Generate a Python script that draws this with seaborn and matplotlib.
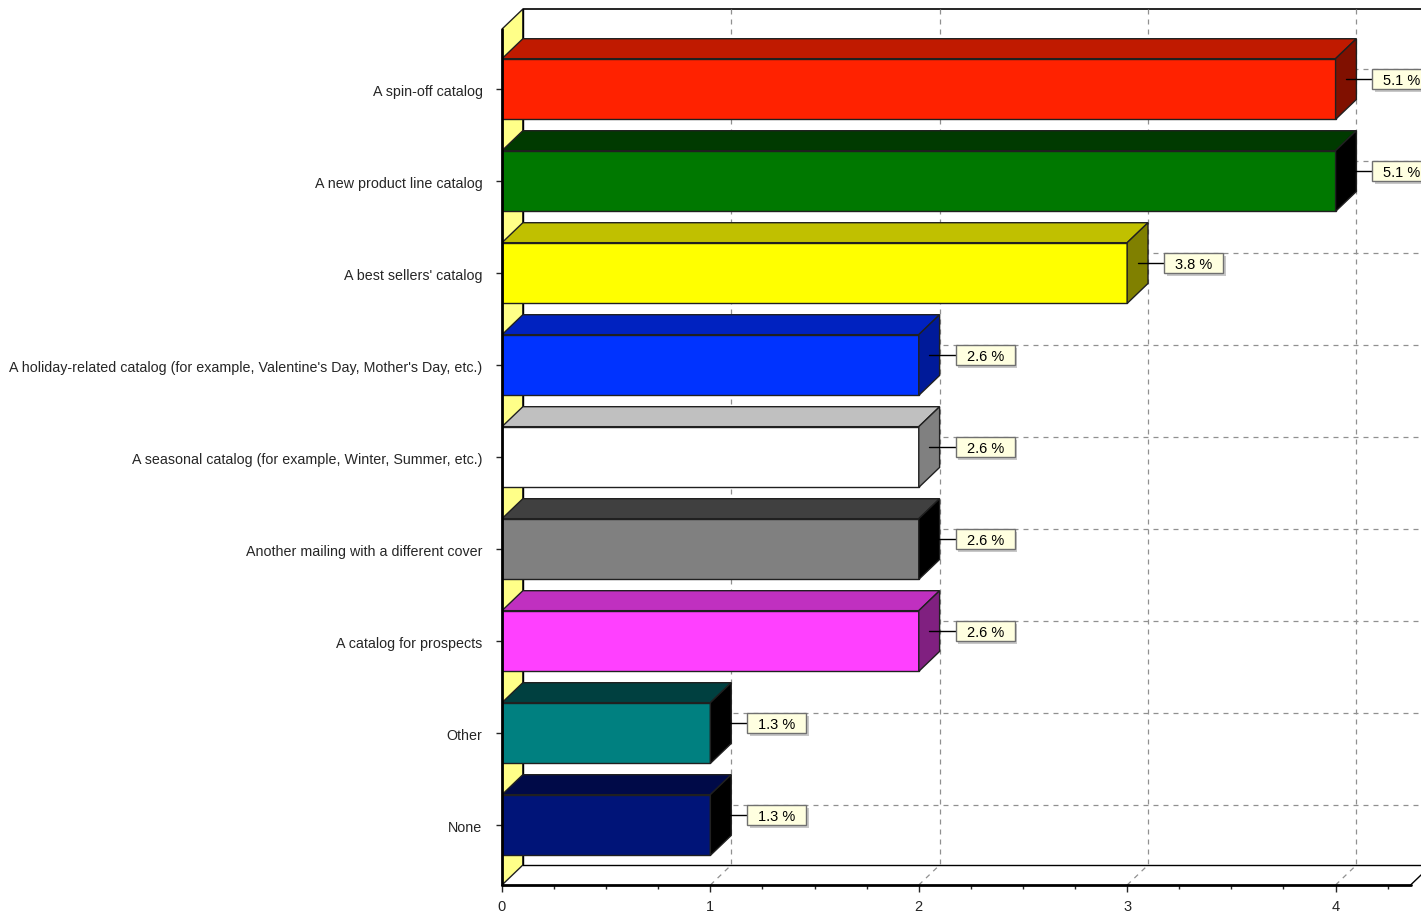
import matplotlib
matplotlib.use("Agg")
import matplotlib.pyplot as plt
import seaborn as sns
import pandas as pd
from matplotlib.patches import Polygon, Rectangle
from matplotlib.ticker import MultipleLocator

categories = [
    "A spin-off catalog",
    "A new product line catalog",
    "A best sellers' catalog",
    "A holiday-related catalog (for example, Valentine's Day, Mother's Day, etc.)",
    "A seasonal catalog (for example, Winter, Summer, etc.)",
    "Another mailing with a different cover",
    "A catalog for prospects",
    "Other",
    "None",
]
counts = [4, 4, 3, 2, 2, 2, 2, 1, 1]
percent_labels = ["5.1 %", "5.1 %", "3.8 %", "2.6 %", "2.6 %", "2.6 %", "2.6 %", "1.3 %", "1.3 %"]
x_ticks = [0, 1, 2, 3, 4]

front_colors = ["#FF2200", "#007800", "#FFFF00", "#0033FF", "#FFFFFF",
                "#808080", "#FF40FF", "#008080", "#001478"]
top_colors = ["#C01A00", "#003A00", "#C0C000", "#0022C0", "#C0C0C0",
              "#404040", "#C030C0", "#004040", "#000A48"]
side_colors = ["#801000", "#000000", "#808000", "#001A99", "#808080",
               "#000000", "#802080", "#000000", "#000000"]

sns.set_style("white")
plt.rcParams["font.family"] = ["Liberation Sans", "DejaVu Sans"]

fig = plt.figure(figsize=(14.21, 9.12), dpi=100)
ax = fig.add_axes([502 / 1421, 26 / 912, 919 / 1421, 876 / 912])

DX = 0.1      # depth in x (value units)
DY = 0.217    # depth in y (category units, towards top)
BH = 0.66     # bar height
Y_TOP = -0.652
Y_BOT = 8.652
X_END = 4.36
GRID = dict(color="#909090", lw=0.9, ls=(0, (4, 4)), zorder=1)

df = pd.DataFrame({"cat": categories, "n": counts})

# back wall & left wall
ax.add_patch(Polygon([(0, Y_TOP), (DX, Y_TOP - DY), (DX, Y_BOT - DY), (0, Y_BOT)],
                     closed=True, facecolor="#FFFF88", edgecolor="#202020", lw=1, zorder=0.5))
ax.plot([DX, DX], [Y_TOP - DY, Y_BOT - DY], color="black", lw=1, zorder=0.6)
ax.plot([DX, 5], [Y_TOP - DY, Y_TOP - DY], color="black", lw=1.2, zorder=0.6, clip_on=False)
ax.plot([DX, 5], [Y_BOT - DY, Y_BOT - DY], color="black", lw=1, zorder=0.6)
ax.plot([X_END, X_END + DX], [Y_BOT, Y_BOT - DY], color="black", lw=1, zorder=0.6)

# gridlines on back wall and floor
for v in x_ticks[1:]:
    ax.plot([v + DX, v + DX], [Y_TOP - DY, Y_BOT - DY], **GRID)
    ax.plot([v, v + DX], [Y_BOT, Y_BOT - DY], **GRID)
for i in range(len(categories)):
    ax.plot([DX, 5], [i - DY, i - DY], **GRID)

# front faces of bars
sns.barplot(data=df, x="n", y="cat", hue="cat", palette=front_colors, legend=False,
            orient="h", width=BH, saturation=1, edgecolor="#202020", linewidth=1, ax=ax, zorder=3)

for i, v in enumerate(counts):
    top = i - BH / 2
    bot = i + BH / 2
    ax.add_patch(Polygon([(0, top), (DX, top - DY), (v + DX, top - DY), (v, top)],
                         closed=True, facecolor=top_colors[i], edgecolor="#202020", lw=1, zorder=3))
    ax.add_patch(Polygon([(v, top), (v + DX, top - DY), (v + DX, bot - DY), (v, bot)],
                         closed=True, facecolor=side_colors[i], edgecolor="#202020", lw=1, zorder=3))
    # label box
    yc = i - DY / 2
    bx = v + DX + 0.077
    bw, bh = 0.283, 0.22
    ax.plot([v + DX / 2, bx], [yc, yc], color="black", lw=1, zorder=4)
    ax.add_patch(Rectangle((bx + 0.012, yc - bh / 2 + 0.03), bw, bh, facecolor="#C8C8C8",
                           edgecolor="none", zorder=4, clip_on=True))
    ax.add_patch(Rectangle((bx, yc - bh / 2), bw, bh, facecolor="#FFFFE0",
                           edgecolor="#707070", lw=1, zorder=5, clip_on=True))
    ax.text(bx + bw / 2, yc + 0.01, percent_labels[i], ha="center", va="center",
            fontsize=10.5, color="black", zorder=6, clip_on=True)

# front axis lines
ax.plot([0, 0], [Y_TOP, Y_BOT], color="black", lw=2, zorder=7, clip_on=False)
ax.plot([0, X_END], [Y_BOT, Y_BOT], color="black", lw=2, zorder=7, clip_on=False)

ax.set_xlim(0, 4.41)
ax.set_ylim(8.652, -0.87)
for s in ax.spines.values():
    s.set_visible(False)
ax.set_xticks(x_ticks)
ax.xaxis.set_minor_locator(MultipleLocator(0.25))
ax.set_yticks(range(len(categories)))
ax.set_yticklabels(categories)
ax.tick_params(axis="x", which="major", length=5, width=1, pad=5, labelsize=10.5, bottom=True, direction="out")
ax.tick_params(axis="x", which="minor", length=3, width=1, bottom=True, direction="out")
ax.tick_params(axis="y", which="major", length=4, width=1, pad=10, labelsize=10.3, left=True, direction="out")
for lbl in ax.get_yticklabels():
    lbl.set_y(lbl.get_position()[1])
ax.set_xlabel("")
ax.set_ylabel("")
ax.grid(False)

fig.savefig("out.png", dpi=100)
